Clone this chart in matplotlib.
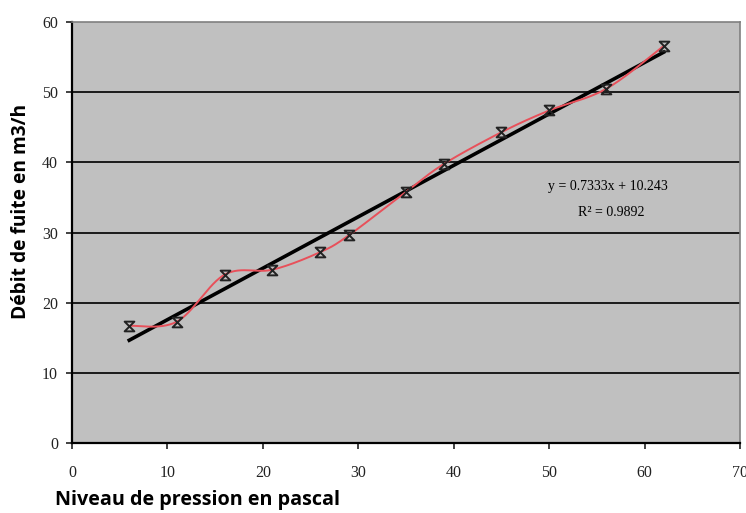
## Débit de fuite vs niveau de pression
import numpy as np
import matplotlib
matplotlib.use("Agg")
import matplotlib.pyplot as plt
from matplotlib.path import Path

# measured points
pression = [6, 11, 16, 21, 26, 29, 35, 39, 45, 50, 56, 62]
debit = [16.7, 17.3, 24.0, 24.7, 27.2, 29.6, 35.8, 39.8, 44.3, 47.4, 50.5, 56.6]

# linear trendline (as printed on the chart)
pente = 0.7333
origine = 10.243
r2 = 0.9892

x_ticks = [0, 10, 20, 30, 40, 50, 60, 70]
y_ticks = [0, 10, 20, 30, 40, 50, 60]


def catmull_rom(xs, ys, n=30, sx=1.0, sy=1.0):
    # smooth curve through the points (like the excel "smoothed line")
    p = np.column_stack([np.asarray(xs) * sx, np.asarray(ys) * sy])
    p = np.vstack([p[0], p, p[-1]])
    out = []
    for i in range(1, len(p) - 2):
        p0, p1, p2, p3 = p[i - 1], p[i], p[i + 1], p[i + 2]
        t = np.linspace(0, 1, n)[:, None]
        seg = 0.5 * ((2 * p1) + (-p0 + p2) * t
                     + (2 * p0 - 5 * p1 + 4 * p2 - p3) * t ** 2
                     + (-p0 + 3 * p1 - 3 * p2 + p3) * t ** 3)
        out.append(seg)
    c = np.vstack(out)
    return c[:, 0] / sx, c[:, 1] / sy


# hourglass marker: X with bars top and bottom
mk = Path([(-1, 1), (1, 1), (-1, -1), (1, -1), (-1, 1)],
          [Path.MOVETO, Path.LINETO, Path.LINETO, Path.LINETO, Path.CLOSEPOLY])

fig = plt.figure(figsize=(7.46, 5.13), dpi=100)
ax = fig.add_axes([0.0965, 0.1365, 0.8955, 0.8205])
ax.set_facecolor("#c0c0c0")

for v in y_ticks[1:-1]:
    ax.axhline(v, color="#1a1a1a", lw=1.4, zorder=1)

cx, cy = catmull_rom(pression, debit, sx=9.55, sy=7.0)
ax.plot(cx, cy, color="#e8505a", lw=1.4, zorder=3)

xf = np.array([pression[0], pression[-1]])
ax.plot(xf, pente * xf + origine, color="black", lw=2.6, zorder=2)

ax.plot(pression, debit, linestyle="none", marker=mk, markersize=7,
        markerfacecolor="none", markeredgecolor="#222222", mew=1.4, zorder=4)

ax.text(56.2, 36.6, "y = 0.7333x + 10.243", ha="center", va="center",
        family="Liberation Serif", fontsize=10)
ax.text(56.5, 32.9, "R\u00b2 = %.4f" % r2, ha="center", va="center",
        family="Liberation Serif", fontsize=10)

ax.set_xlim(0, 70)
ax.set_ylim(0, 60)
ax.set_xticks(x_ticks)
ax.set_yticks(y_ticks)
for lab in ax.get_xticklabels() + ax.get_yticklabels():
    lab.set_family("Liberation Serif")
    lab.set_fontsize(11.5)
ax.tick_params(direction="out", length=4, width=1.2, colors="#222222")
ax.tick_params(axis="x", pad=12)
ax.tick_params(axis="y", pad=6)

for s in ["left", "bottom"]:
    ax.spines[s].set_color("black")
    ax.spines[s].set_linewidth(1.6)
for s in ["top", "right"]:
    ax.spines[s].set_color("#808080")
    ax.spines[s].set_linewidth(1.2)

fig.text(0.074, 0.025, "Niveau de pression en pascal", family="Open Sans",
         weight="bold", fontsize=14.2, ha="left", va="center")
fig.text(0.028, 0.587, "Débit de fuite en m3/h", family="Open Sans",
         weight="bold", fontsize=13.8, ha="center", va="center", rotation=90)

fig.savefig("out.png", dpi=100, facecolor="white")
